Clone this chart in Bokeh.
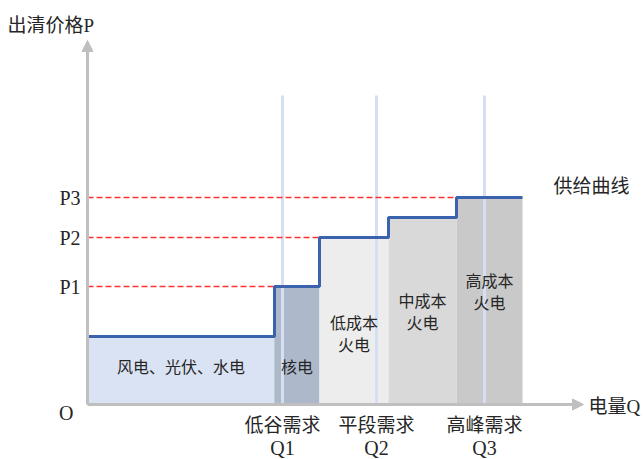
from bokeh.plotting import figure
from bokeh.models import Range1d, Arrow, NormalHead
from bokeh.core.properties import value
from bokeh.embed import file_html
from bokeh.resources import INLINE

# ---- data ----
sources = ["风电、光伏、水电", "核电", "低成本\n火电", "中成本\n火电", "高成本\n火电"]
q_left = [0.0, 18.7, 23.2, 30.1, 36.9]
q_right = [18.7, 23.2, 30.1, 36.9, 43.5]
price = [6.8, 11.8, 16.7, 18.7, 20.7]
p_labels = ["P1", "P2", "P3"]
p_values = [11.8, 16.7, 20.7]
q_labels = ["低谷需求\nQ1", "平段需求\nQ2", "高峰需求\nQ3"]
q_values = [19.5, 28.9, 39.7]

# ---- style / layout ----
bar_colors = ["#dae3f3", "#adb9ca", "#ededed", "#d9d9d9", "#c9c9c9"]
bar_label_y = [3.7, 3.7, 7.0, 9.2, 11.2]
font = value("'Liberation Serif', 'Noto Sans CJK SC'")
txt_color = "#262626"
axis_color = "#bfbfbf"
x_arrow_end = 49.6
y_arrow_end = 36.4
demand_top = 30.9

p = figure(width=643, height=459, x_range=Range1d(-8.7, 55.6), y_range=Range1d(-5.5, 40.4),
           output_backend="svg", toolbar_location=None, min_border=0,
           x_axis_location=None, y_axis_location=None)
p.grid.visible = False
p.outline_line_color = None

# bars
p.quad(left=q_left, right=q_right, bottom=0, top=price, fill_color=bar_colors,
       line_color=["#d3e5cc", None, None, None, None], line_width=1)

# demand verticals
p.segment(x0=q_values, y0=[0] * 3, x1=q_values, y1=[demand_top] * 3,
          line_color="#d4e0f2", line_width=3)

# dashed price lines, ending where the step reaches that price
ends = []
for pv in p_values:
    idx = price.index(pv)
    ends.append(q_left[idx])
p.segment(x0=[0] * 3, y0=p_values, x1=ends, y1=p_values,
          line_color="#ff3030", line_width=1.4, line_dash="6 3")

# step supply curve
sx, sy = [], []
for l, r, pr in zip(q_left, q_right, price):
    sx += [l, r]
    sy += [pr, pr]
p.line(sx, sy, line_color="#3a62ad", line_width=3)

# axes
p.add_layout(Arrow(end=NormalHead(size=11, fill_color=axis_color, line_color=axis_color),
                   x_start=0, y_start=0, x_end=0, y_end=y_arrow_end,
                   line_color=axis_color, line_width=3))
p.add_layout(Arrow(end=NormalHead(size=11, fill_color=axis_color, line_color=axis_color),
                   x_start=0, y_start=0, x_end=x_arrow_end, y_end=0,
                   line_color=axis_color, line_width=3))

# bar labels
mids = [(l + r) / 2 for l, r in zip(q_left, q_right)]
p.text(x=mids, y=bar_label_y, text=sources, text_font=font, text_font_size="16px",
       text_color=txt_color, text_align="center", text_baseline="middle", text_line_height=1.25)

# price tick labels
p.text(x=[-0.7] * 3, y=p_values, text=p_labels, text_font=font, text_font_size="20px",
       text_color=txt_color, text_align="right", text_baseline="middle")
p.text(x=[-1.4], y=[-0.8], text=["O"], text_font=font, text_font_size="20px",
       text_color=txt_color, text_align="right", text_baseline="middle")

# demand labels (two rows)
q_top = [s.split("\n")[0] for s in q_labels]
q_bot = [s.split("\n")[1] for s in q_labels]
p.text(x=q_values, y=[-2.1] * 3, text=q_top, text_font=font, text_font_size="19px",
       text_color=txt_color, text_align="center", text_baseline="middle")
p.text(x=q_values, y=[-4.3] * 3, text=q_bot, text_font=font, text_font_size="20px",
       text_color=txt_color, text_align="center", text_baseline="middle")

# axis titles
p.text(x=[-8.0], y=[37.9], text=["出清价格P"], text_font=font, text_font_size="19px",
       text_color=txt_color, text_align="left", text_baseline="middle")
p.text(x=[50.1], y=[-0.2], text=["电量Q"], text_font=font, text_font_size="19px",
       text_color=txt_color, text_align="left", text_baseline="middle")
p.text(x=[46.6], y=[21.8], text=["供给曲线"], text_font=font, text_font_size="19px",
       text_color=txt_color, text_align="left", text_baseline="middle")

open("out.html", "w").write(file_html(p, INLINE))
